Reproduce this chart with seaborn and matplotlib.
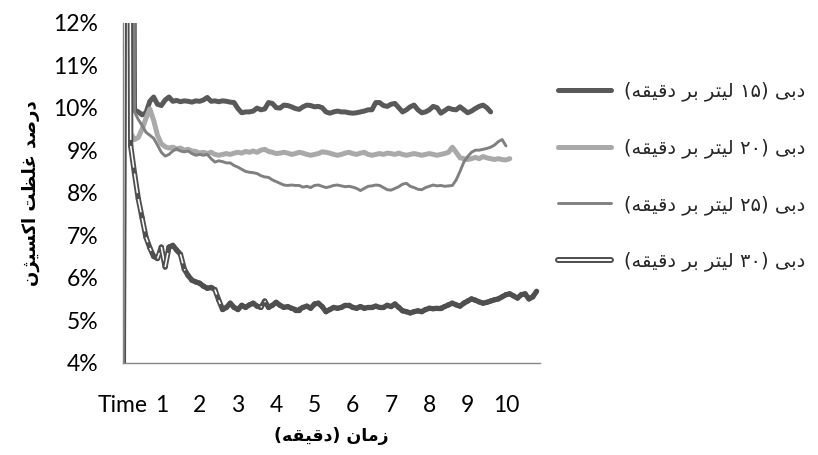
import re
import numpy as np
import matplotlib
matplotlib.use("Agg")
import matplotlib.pyplot as plt
from matplotlib.lines import Line2D
from matplotlib.legend_handler import HandlerTuple
from matplotlib.font_manager import FontProperties
import seaborn as sns

# Oxygen concentration (%) sampled every 0.1 minute for each flow rate
STEP = 0.1

o2_15 = [
    0, 40, 40, 9.95, 9.90, 9.83, 9.88, 10.15, 10.25, 10.08,
    10.05, 10.18, 10.25, 10.15, 10.17, 10.14, 10.16, 10.15, 10.13, 10.16,
    10.15, 10.18, 10.24, 10.15, 10.16, 10.14, 10.16, 10.15, 10.13, 10.12,
    9.98, 9.88, 9.90, 9.90, 9.92, 9.99, 9.95, 9.97, 10.12, 10.10,
    10.00, 9.99, 10.06, 10.05, 10.02, 9.98, 9.96, 10.02, 10.06, 10.05,
    10.02, 10.03, 10.00, 9.90, 9.87, 9.90, 9.92, 9.90, 9.90, 9.88,
    9.87, 9.88, 9.90, 9.92, 9.95, 9.95, 10.12, 10.12, 10.05, 10.03,
    10.08, 10.10, 10.00, 9.90, 9.95, 10.02, 10.06, 9.95, 9.88, 9.90,
    9.95, 10.03, 10.00, 9.87, 9.93, 9.99, 9.96, 9.95, 10.02, 9.95,
    9.88, 9.92, 9.98, 10.03, 10.06, 10.00, 9.90,
]

o2_20 = [
    40, 40, 9.40, 9.25, 9.30, 9.50, 9.75, 9.97, 9.70, 9.35,
    9.15, 9.08, 9.05, 9.07, 9.03, 9.05, 9.00, 9.02, 8.98, 8.97,
    8.93, 8.95, 8.92, 8.95, 8.90, 8.88, 8.90, 8.92, 8.90, 8.93,
    8.95, 8.93, 8.97, 8.95, 8.98, 8.95, 9.00, 9.02, 8.97, 8.95,
    8.92, 8.93, 8.95, 8.93, 8.90, 8.92, 8.95, 8.93, 8.90, 8.88,
    8.90, 8.92, 8.96, 8.95, 8.93, 8.90, 8.88, 8.90, 8.93, 8.95,
    8.92, 8.90, 8.93, 8.95, 8.90, 8.88, 8.90, 8.92, 8.90, 8.93,
    8.92, 8.90, 8.93, 8.90, 8.88, 8.90, 8.92, 8.90, 8.88, 8.90,
    8.92, 8.90, 8.88, 8.90, 8.92, 8.95, 9.07, 8.95, 8.82, 8.80,
    8.78, 8.80, 8.83, 8.80, 8.85, 8.82, 8.80, 8.78, 8.80, 8.78,
    8.77, 8.80,
]

o2_25 = [
    40, 40, 40, 9.90, 9.72, 9.58, 9.42, 9.35, 9.28, 9.12,
    8.95, 8.86, 8.90, 8.98, 9.03, 8.98, 8.96, 8.98, 8.92, 8.88,
    8.90, 8.88, 8.90, 8.80, 8.72, 8.75, 8.73, 8.70, 8.70, 8.64,
    8.60, 8.55, 8.50, 8.48, 8.47, 8.45, 8.40, 8.37, 8.36, 8.30,
    8.26, 8.22, 8.18, 8.17, 8.18, 8.17, 8.17, 8.13, 8.15, 8.12,
    8.17, 8.18, 8.15, 8.12, 8.14, 8.17, 8.18, 8.16, 8.14, 8.15,
    8.13, 8.10, 8.05, 8.10, 8.15, 8.16, 8.18, 8.17, 8.12, 8.07,
    8.06, 8.10, 8.14, 8.20, 8.22, 8.15, 8.12, 8.08, 8.07, 8.12,
    8.15, 8.18, 8.16, 8.17, 8.15, 8.16, 8.17, 8.30, 8.50, 8.72,
    8.85, 8.95, 9.00, 9.00, 9.02, 9.04, 9.07, 9.12, 9.20, 9.25,
    9.10,
]

o2_30 = [
    0, 40, 9.10, 8.45, 7.85, 7.40, 6.95, 6.70, 6.50, 6.45,
    6.72, 6.25, 6.72, 6.76, 6.65, 6.55, 6.20, 6.05, 5.94, 5.90,
    5.87, 5.80, 5.75, 5.77, 5.72, 5.47, 5.25, 5.30, 5.40, 5.30,
    5.25, 5.35, 5.30, 5.36, 5.40, 5.33, 5.30, 5.45, 5.30, 5.35,
    5.42, 5.35, 5.30, 5.32, 5.28, 5.25, 5.25, 5.30, 5.33, 5.28,
    5.38, 5.40, 5.32, 5.20, 5.25, 5.30, 5.28, 5.30, 5.35, 5.35,
    5.30, 5.28, 5.32, 5.28, 5.30, 5.30, 5.33, 5.30, 5.30, 5.35,
    5.32, 5.38, 5.30, 5.22, 5.20, 5.17, 5.20, 5.22, 5.20, 5.25,
    5.28, 5.27, 5.28, 5.28, 5.32, 5.36, 5.40, 5.36, 5.33, 5.40,
    5.45, 5.50, 5.47, 5.43, 5.40, 5.42, 5.45, 5.48, 5.50, 5.55,
    5.60, 5.62, 5.57, 5.52, 5.60, 5.62, 5.50, 5.55, 5.68,
]

x_tick_labels = ["Time", "1", "2", "3", "4", "5", "6", "7", "8", "9", "10"]
y_tick_values = [4, 5, 6, 7, 8, 9, 10, 11, 12]
legend_labels = [
    "دبی (۱۵ لیتر بر دقیقه)",
    "دبی (۲۰ لیتر بر دقیقه)",
    "دبی (۲۵ لیتر بر دقیقه)",
    "دبی (۳۰ لیتر بر دقیقه)",
]
x_title = "زمان (دقیقه)"
y_title = "درصد غلظت اکسیژن"

# ---- Persian text shaping (contextual forms + right-to-left order) ----
FORMS = {
    "ا": ("\uFE8D", "\uFE8E", None, None),
    "ب": ("\uFE8F", "\uFE90", "\uFE91", "\uFE92"),
    "ت": ("\uFE95", "\uFE96", "\uFE97", "\uFE98"),
    "د": ("\uFEA9", "\uFEAA", None, None),
    "ر": ("\uFEAD", "\uFEAE", None, None),
    "ز": ("\uFEAF", "\uFEB0", None, None),
    "س": ("\uFEB1", "\uFEB2", "\uFEB3", "\uFEB4"),
    "ص": ("\uFEB9", "\uFEBA", "\uFEBB", "\uFEBC"),
    "ظ": ("\uFEC5", "\uFEC6", "\uFEC7", "\uFEC8"),
    "غ": ("\uFECD", "\uFECE", "\uFECF", "\uFED0"),
    "ق": ("\uFED5", "\uFED6", "\uFED7", "\uFED8"),
    "ل": ("\uFEDD", "\uFEDE", "\uFEDF", "\uFEE0"),
    "م": ("\uFEE1", "\uFEE2", "\uFEE3", "\uFEE4"),
    "ن": ("\uFEE5", "\uFEE6", "\uFEE7", "\uFEE8"),
    "ه": ("\uFEE9", "\uFEEA", "\uFEEB", "\uFEEC"),
    "ی": ("\uFBFC", "\uFBFD", "\uFBFE", "\uFBFF"),
    "ک": ("\uFB8E", "\uFB8F", "\uFB90", "\uFB91"),
    "ژ": ("\uFB8A", "\uFB8B", None, None),
}


def shape(text):
    out = []
    for i, c in enumerate(text):
        if c not in FORMS:
            out.append(c)
            continue
        prev = text[i - 1] if i > 0 else ""
        nxt = text[i + 1] if i + 1 < len(text) else ""
        iso, fin, ini, med = FORMS[c]
        joins_prev = prev in FORMS and FORMS[prev][2] is not None
        joins_next = nxt in FORMS and ini is not None
        if joins_prev and joins_next:
            out.append(med)
        elif joins_prev:
            out.append(fin)
        elif joins_next:
            out.append(ini)
        else:
            out.append(iso)
    return "".join(out)


def rtl(text):
    s = shape(text)[::-1]
    s = s.translate(str.maketrans("()", ")("))
    return re.sub(r"[0-9\u06F0-\u06F9]+", lambda m: m.group(0)[::-1], s)


# ---- styling ----
sns.set_theme(style="white")
plt.rcParams["font.family"] = ["Lato", "DejaVu Sans"]

C15, C20, C25, C30 = "#595959", "#a9a9a9", "#808080", "#4f4f4f"
AXIS_GREY = "#878787"
fa_font = "DejaVu Sans"

fig = plt.figure(figsize=(8.18, 4.55), dpi=100)
ax = fig.add_axes([0.1504, 0.2029, 0.5098, 0.7473])
ax.set_xlim(0, 10.89)
ax.set_ylim(4, 12)


def minutes(values):
    return np.arange(len(values)) * STEP


for vals, col, lw in [(o2_15, C15, 3.6), (o2_20, C20, 3.6), (o2_25, C25, 2.1)]:
    sns.lineplot(x=minutes(vals), y=vals, ax=ax, color=col, linewidth=lw,
                 estimator=None, sort=False, solid_capstyle="round",
                 solid_joinstyle="round")

# double line: each segment is a dark stroke with a white core; the next
# segment's dark stroke hides the tail of the previous core
t30 = minutes(o2_30)
trans = ax.transData
HIDDEN_PX = 6.0
for i in range(len(o2_30) - 1):
    xs, ys = t30[i:i + 2], o2_30[i:i + 2]
    ax.plot(xs, ys, color=C30, lw=3.8, solid_capstyle="round")
    p0, p1 = trans.transform([(xs[0], ys[0]), (xs[1], ys[1])])
    seg_len = float(np.hypot(*(p1 - p0)))
    keep = seg_len - HIDDEN_PX
    if keep > 1.0:
        f = keep / seg_len
        ax.plot([xs[0], xs[0] + f * (xs[1] - xs[0])],
                [ys[0], ys[0] + f * (ys[1] - ys[0])],
                color="white", lw=1.1, solid_capstyle="butt")

ax.set_xticks(range(len(x_tick_labels)))
ax.set_xticklabels(x_tick_labels)
ax.set_yticks(y_tick_values)
ax.set_yticklabels([f"{v}%" for v in y_tick_values])
ax.tick_params(axis="both", which="major", labelsize=16.5, colors=AXIS_GREY,
               labelcolor="black", width=1.0, direction="out")
ax.tick_params(axis="y", length=5.8, pad=12)
ax.tick_params(axis="x", length=5.0, pad=18)
ax.grid(False)
for side in ("top", "right"):
    ax.spines[side].set_visible(False)
for side in ("left", "bottom"):
    ax.spines[side].set_color(AXIS_GREY)
    ax.spines[side].set_linewidth(1.0)

ax.set_ylabel(rtl(y_title), family=fa_font, fontweight="bold", fontsize=13,
              color="black")
ax.yaxis.set_label_coords(-0.20, 0.5)
ax.set_xlabel(rtl(x_title), family=fa_font, fontweight="bold", fontsize=12.5,
              color="black")
ax.xaxis.set_label_coords(0.5, -0.19)

handles = [
    Line2D([], [], color=C15, lw=3.6),
    Line2D([], [], color=C20, lw=3.6),
    Line2D([], [], color=C25, lw=2.1),
    (Line2D([], [], color=C30, lw=4.3), Line2D([], [], color="white", lw=1.4)),
]
fig.legend(handles, [rtl(s) for s in legend_labels], loc="center left",
           bbox_to_anchor=(0.682, 0.612), frameon=False,
           borderaxespad=0, borderpad=0,
           prop=FontProperties(family=fa_font, size=14),
           handlelength=2.75, handletextpad=0.65, labelspacing=1.9,
           handler_map={tuple: HandlerTuple(ndivide=1, pad=0)})

fig.savefig("out.png", dpi=100)
